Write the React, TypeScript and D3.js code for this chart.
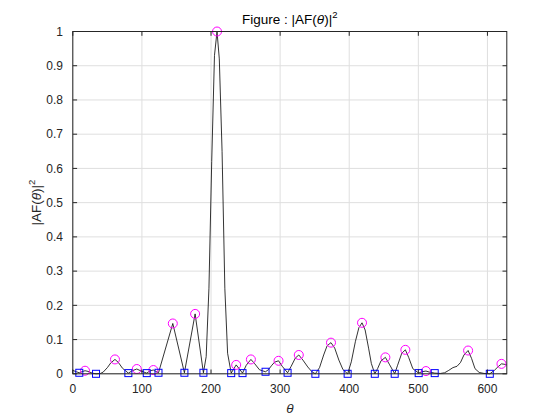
import React from 'react';
import * as d3 from 'd3';

const curveTheta = [0, 5, 9.4, 13, 17.7, 22, 28, 33.6, 40, 44, 50, 55, 61, 66, 72, 80.4, 86, 92.6, 99, 107, 112, 116.6, 120, 124, 144.7, 161.5, 177, 189, 193, 197, 201, 205, 208.7, 212, 216, 220, 224, 229.2, 236.4, 245.6, 251, 257.7, 263, 270, 274, 278.9, 283, 288, 292, 297.7, 303, 310.8, 316, 322, 327, 333, 340, 346, 351, 357, 363, 368, 373.6, 379, 385, 391, 397.7, 403, 409, 414, 418.5, 423, 428, 432, 437, 441, 446, 452.3, 458, 465.8, 470, 476, 481.2, 486, 492, 500.5, 505, 511, 516, 523.7, 532, 538, 544, 550, 556, 561, 566, 572, 577, 582, 588, 595, 603.4, 610, 615, 620.3, 624, 628];
const curveValue = [0.010, 0.006, 0.003, 0.006, 0.009, 0.007, 0.002, 0.000, 0.001, 0.005, 0.018, 0.032, 0.042, 0.033, 0.016, 0.002, 0.009, 0.014, 0.008, 0.002, 0.009, 0.011, 0.007, 0.003, 0.147, 0.003, 0.175, 0.003, 0.05, 0.25, 0.62, 0.93, 1.0, 0.92, 0.65, 0.25, 0.06, 0.002, 0.026, 0.002, 0.025, 0.042, 0.030, 0.012, 0.009, 0.006, 0.012, 0.025, 0.034, 0.038, 0.022, 0.003, 0.022, 0.046, 0.055, 0.040, 0.020, 0.006, 0.000, 0.018, 0.055, 0.082, 0.091, 0.075, 0.040, 0.012, 0.000, 0.035, 0.095, 0.135, 0.149, 0.128, 0.075, 0.030, 0.000, 0.015, 0.038, 0.048, 0.028, 0.000, 0.025, 0.060, 0.070, 0.048, 0.015, 0.002, 0.006, 0.008, 0.005, 0.002, 0.001, 0.003, 0.010, 0.018, 0.022, 0.033, 0.055, 0.068, 0.045, 0.015, 0.004, 0.001, 0.000, 0.010, 0.020, 0.029, 0.028, 0.026];

const peakTheta = [17.7, 61, 92.6, 116.6, 144.7, 177, 208.7, 236.4, 257.7, 297.7, 327, 373.6, 418.5, 452.3, 481.2, 511, 572, 620.3];
const peakValue = [0.009, 0.042, 0.014, 0.011, 0.147, 0.175, 1.0, 0.026, 0.042, 0.038, 0.055, 0.091, 0.149, 0.048, 0.070, 0.008, 0.068, 0.029];

const nullTheta = [9.4, 33.6, 80.4, 107, 124, 161.5, 189, 229.2, 245.6, 278.9, 310.8, 351, 397.7, 437, 465.8, 500.5, 523.7, 603.4];
const nullValue = [0.003, 0, 0.002, 0.002, 0.003, 0.003, 0.003, 0.002, 0.002, 0.006, 0.003, 0, 0, 0, 0, 0.002, 0.002, 0];

const xTicks = [0, 100, 200, 300, 400, 500, 600];
const xTickLabels = ['0', '100', '200', '300', '400', '500', '600'];
const yTicks = [0, 0.1, 0.2, 0.3, 0.4, 0.5, 0.6, 0.7, 0.8, 0.9, 1];
const yTickLabels = ['0', '0.1', '0.2', '0.3', '0.4', '0.5', '0.6', '0.7', '0.8', '0.9', '1'];

const FONT = '"Liberation Sans", Arial, Helvetica, sans-serif';
const AX = '#262626';

export default function App() {
  const L = 72.8, R = 506.8, T = 31.5, B = 373.8;
  const x = d3.scaleLinear().domain([0, 628]).range([L, R]);
  const y = d3.scaleLinear().domain([0, 1]).range([B, T]);
  const idx = d3.range(curveTheta.length);
  const line = d3.line<number>().x(i => x(curveTheta[i])).y(i => y(curveValue[i]));
  const tl = 4.3;
  const sq = 7;
  return (
    <svg width={560} height={420} style={{ position: 'fixed', left: 0, top: 0, background: '#fff' }} fontFamily={FONT}>
      <rect x={0} y={0} width={560} height={420} fill="#fff" />
      <rect x={L} y={T} width={R - L} height={B - T} fill="#fff" />
      {xTicks.map(t => (
        <line key={'gx' + t} x1={x(t)} x2={x(t)} y1={T} y2={B} stroke="#dfdfdf" strokeWidth={1} />
      ))}
      {yTicks.map(t => (
        <line key={'gy' + t} x1={L} x2={R} y1={y(t)} y2={y(t)} stroke="#dfdfdf" strokeWidth={1} />
      ))}
      <path d={line(idx) || ''} fill="none" stroke="#000" strokeWidth={0.8} strokeLinejoin="round" />
      {peakTheta.map((t, i) => (
        <circle key={'p' + i} cx={x(t)} cy={y(peakValue[i])} r={4.5} fill="none" stroke="#ff00ff" strokeWidth={1} />
      ))}
      {nullTheta.map((t, i) => (
        <rect key={'n' + i} x={x(t) - sq / 2} y={y(nullValue[i]) - sq / 2} width={sq} height={sq} fill="none" stroke="#0000ff" strokeWidth={1} />
      ))}
      <rect x={L} y={T} width={R - L} height={B - T} fill="none" stroke={AX} strokeWidth={1} />
      {xTicks.map(t => (
        <g key={'tx' + t}>
          <line x1={x(t)} x2={x(t)} y1={B} y2={B - tl} stroke={AX} />
          <line x1={x(t)} x2={x(t)} y1={T} y2={T + tl} stroke={AX} />
        </g>
      ))}
      {yTicks.map(t => (
        <g key={'ty' + t}>
          <line x1={L} x2={L + tl} y1={y(t)} y2={y(t)} stroke={AX} />
          <line x1={R} x2={R - tl} y1={y(t)} y2={y(t)} stroke={AX} />
        </g>
      ))}
      {xTicks.map((t, i) => (
        <text key={'lx' + t} x={x(t)} y={393} textAnchor="middle" fontSize={12} fill={AX}>{xTickLabels[i]}</text>
      ))}
      {yTicks.map((t, i) => (
        <text key={'ly' + t} x={63} y={y(t) + 4.2} textAnchor="end" fontSize={12} fill={AX}>{yTickLabels[i]}</text>
      ))}
      <text x={(L + R) / 2} y={24} textAnchor="middle" fontSize={13.5} fill="#000">
        <tspan>Figure : |AF(</tspan>
        <tspan fontStyle="italic">θ</tspan>
        <tspan>)|</tspan>
        <tspan dy={-6} fontSize={9.5}>2</tspan>
      </text>
      <text x={(L + R) / 2} y={413} textAnchor="middle" fontSize={13.5} fontStyle="italic" fill={AX}>θ</text>
      <text transform={`translate(40.5, ${(T + B) / 2}) rotate(-90)`} textAnchor="middle" fontSize={13.5} fill={AX}>
        <tspan>|AF(</tspan>
        <tspan fontStyle="italic">θ</tspan>
        <tspan>)|</tspan>
        <tspan dy={-6} fontSize={9.5}>2</tspan>
      </text>
    </svg>
  );
}
